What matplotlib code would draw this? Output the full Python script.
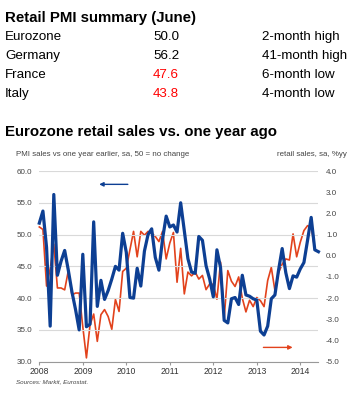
import matplotlib
matplotlib.use("Agg")
import matplotlib.pyplot as plt
import numpy as np

plt.rcParams['font.family'] = ['Liberation Sans', 'DejaVu Sans']

# summary table
countries = ['Eurozone', 'Germany', 'France', 'Italy']
pmi_june = [50.0, 56.2, 47.6, 43.8]
pmi_note = ['2-month high', '41-month high', '6-month low', '4-month low']

# PMI sales vs one year earlier (left axis), Jan 2008 - Jun 2014
pmi_sales = [
    51.8, 53.7, 48.0, 35.6, 56.3, 43.6, 45.8, 47.5, 44.4, 41.0, 38.2, 35.0,
    46.9, 35.5, 35.9, 52.0, 38.7, 42.8, 39.8, 41.2, 43.0, 45.0, 44.4, 50.2,
    47.2, 40.1, 40.0, 44.7, 41.9, 47.4, 50.0, 50.9, 46.4, 44.4, 49.3, 52.9,
    51.2, 51.5, 50.4, 55.0, 50.6, 46.2, 44.1, 43.9, 49.7, 49.1, 45.1, 43.0,
    40.2, 47.6, 44.8, 36.5, 36.1, 39.9, 40.1, 39.0, 43.6, 40.5, 40.3, 39.9,
    39.7, 34.8, 34.2, 35.6, 39.9, 40.5, 44.4, 47.8, 44.0, 41.5, 43.5, 43.3,
    44.6, 45.6, 49.1, 52.7, 47.6, 47.3,
]

# retail sales %yy (right axis), Jan 2008 - May 2014
retail_yy = [
    1.36, 1.24, -1.43, -0.62, 0.55, -1.52, -1.52, -1.61, -0.71, -1.85, -1.76, -1.76,
    -3.35, -4.82, -3.26, -2.75, -4.04, -2.78, -2.54, -2.87, -3.47, -2.06, -2.63, -0.74,
    -0.59, 0.28, 1.15, -0.05, 1.15, 0.97, 1.15, 1.06, 0.91, 0.67, 1.15, -0.15,
    0.6, 1.1, -1.25, 0.35, -1.8, -0.77, -0.95, -0.77, -1.1, -0.93, -1.6, -1.33,
    -1.35, -2.05, -0.3, -2.95, -0.7, -1.2, -1.45, -1.0, -2.0, -2.65, -2.1, -2.4,
    -1.97, -2.12, -2.4, -1.17, -0.55, -1.64, -0.8, -0.4, -0.15, -0.2, 1.03, -0.05,
    0.64, 1.19, 1.42, 1.35, 0.32,
]

years = [2008, 2009, 2010, 2011, 2012, 2013, 2014]

t_pmi = 2008 + np.arange(len(pmi_sales)) / 12
t_ret = 2008 + np.arange(len(retail_yy)) / 12

BLUE = '#0d3f93'
RED = '#e2421c'

fig = plt.figure(figsize=(3.51, 4.0), dpi=100)

# header table
fig.text(5 / 351, 1 - 18 / 400, 'Retail PMI summary (June)', fontsize=10.8,
         fontweight='bold', va='center', ha='left')
for i, (c, v, n) in enumerate(zip(countries, pmi_june, pmi_note)):
    y = 1 - (37 + 19 * i) / 400
    col = 'red' if v < 50 else 'black'
    fig.text(5 / 351, y, c, fontsize=9.6, va='center')
    fig.text(153 / 351, y, f'{v:.1f}', fontsize=9.6, va='center', color=col)
    fig.text(262 / 351, y, n, fontsize=9.6, va='center')

fig.text(5 / 351, 1 - 132 / 400, 'Eurozone retail sales vs. one year ago',
         fontsize=10.8, fontweight='bold', va='center')
fig.text(16 / 351, 1 - 155 / 400, 'PMI sales vs one year earlier, sa, 50 = no change',
         fontsize=5.7, color='#444444', va='center')
fig.text(347 / 351, 1 - 155 / 400, 'retail sales, sa, %yy',
         fontsize=5.7, color='#444444', va='center', ha='right')
fig.text(16 / 351, 1 - 382 / 400, 'Sources: Markit, Eurostat.',
         fontsize=4.5, color='#444444', style='italic', va='center')

ax = fig.add_axes([39.3 / 351, (400 - 361.7) / 400, (317.7 - 39.3) / 351, 190.7 / 400])
ax2 = ax.twinx()

ax.plot(t_pmi, pmi_sales, color=BLUE, lw=2.3, zorder=3, clip_on=False)
ax2.plot(t_ret, retail_yy, color=RED, lw=1.2, zorder=2, clip_on=False)
ax.set_zorder(ax2.get_zorder() + 1)
ax.patch.set_visible(False)

ax.set_xlim(2008, 2014.4)
ax.set_ylim(30, 60)
ax2.set_ylim(-5, 4)
ax.set_yticks(np.arange(30, 61, 5))
ax.set_yticklabels([f'{v:.1f}' for v in np.arange(30, 61, 5)])
ax2.set_yticks(np.arange(-5, 5, 1))
ax2.set_yticklabels([f'{v:.1f}' for v in np.arange(-5, 5, 1)])
ax.set_xticks(years)
ax.set_xticklabels([str(y) for y in years])

ax.grid(axis='y', color='#d9d9d9', lw=0.8)
ax.set_axisbelow(True)
for a in (ax, ax2):
    for s in ('top', 'left', 'right'):
        a.spines[s].set_visible(False)
    a.spines['bottom'].set_color('#999999')
    a.spines['bottom'].set_linewidth(0.8)
ax2.spines['bottom'].set_visible(False)

ax.tick_params(axis='y', length=0, labelsize=5.8, labelcolor='#444444', pad=5)
ax2.tick_params(axis='y', length=0, labelsize=5.8, labelcolor='#444444', pad=6)
ax.tick_params(axis='x', length=2.5, width=0.8, color='#999999', labelsize=6.2,
               labelcolor='#333333', pad=1.5)

# direction arrows
ax.annotate('', xy=(0.215, 0.93), xytext=(0.318, 0.93), xycoords='axes fraction',
            arrowprops=dict(arrowstyle='-|>', color=BLUE, lw=1.0,
                            mutation_scale=6, shrinkA=0, shrinkB=0))
ax.annotate('', xy=(0.91, 0.075), xytext=(0.805, 0.075), xycoords='axes fraction',
            arrowprops=dict(arrowstyle='-|>', color=RED, lw=1.0,
                            mutation_scale=6, shrinkA=0, shrinkB=0))

fig.savefig('out.png', dpi=100)
